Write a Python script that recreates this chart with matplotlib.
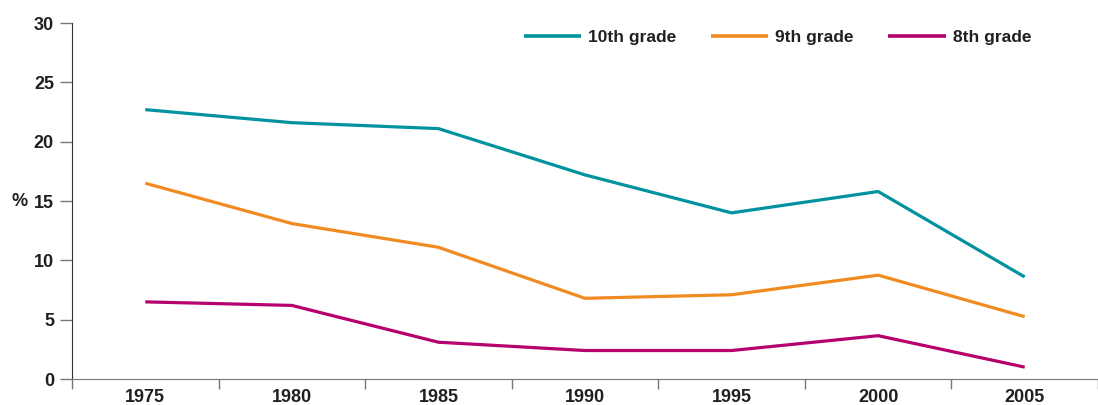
import matplotlib.pyplot as plt
from matplotlib.ticker import MultipleLocator

# datos
anios = [1975, 1980, 1985, 1990, 1995, 2000, 2005]
grado_10 = [22.7, 21.6, 21.1, 17.2, 14.0, 15.8, 8.6]
grado_9 = [16.5, 13.1, 11.1, 6.8, 7.1, 8.75, 5.25]
grado_8 = [6.5, 6.2, 3.1, 2.4, 2.4, 3.65, 1.0]

series = ['10th grade', '9th grade', '8th grade']
colores = ['#00929F', '#F18B21', '#B5006E']

plt.rcParams['font.family'] = ['Liberation Sans Narrow', 'Liberation Sans', 'DejaVu Sans']
plt.rcParams['font.weight'] = 'bold'

fig = plt.figure(figsize=(10.98, 4.05), dpi=100)
ax = fig.add_axes([72 / 1098, 1 - 379 / 405, 1 - 72 / 1098, (379 - 23) / 405])

for valores, nombre, color in zip([grado_10, grado_9, grado_8], series, colores):
    ax.plot(anios, valores, color=color, linewidth=2.3, label=nombre, solid_capstyle='butt')

ax.set_xlim(1972.5, 2007.5)
ax.set_ylim(0, 30)
ax.set_yticks(range(0, 31, 5))
ax.set_xticks(anios)
ax.xaxis.set_minor_locator(MultipleLocator(5, offset=2.5))

ax.spines['top'].set_visible(False)
ax.spines['right'].set_visible(False)
ax.spines['left'].set_color('#333333')
ax.spines['bottom'].set_color('#777777')

ax.tick_params(axis='y', direction='out', length=9, width=1, color='#777777',
               labelsize=13, labelcolor='#231F20', pad=4)
ax.tick_params(axis='x', which='major', length=0, labelsize=13, labelcolor='#231F20', pad=7)
ax.tick_params(axis='x', which='minor', direction='out', length=7, width=1, color='#777777')

for lbl in ax.get_xticklabels() + ax.get_yticklabels():
    lbl.set_fontweight('bold')

ax.set_ylabel('%', rotation=0, fontsize=13, fontweight='bold', color='#231F20', labelpad=10, va='center')

leg = ax.legend(loc='upper right', bbox_to_anchor=(0.95, 1.025), ncol=3, frameon=False,
                handlelength=3.3, handletextpad=0.4, columnspacing=2.0,
                prop={'size': 12.5, 'weight': 'bold'})
for t in leg.get_texts():
    t.set_color('#231F20')
for h in leg.get_lines():
    h.set_linewidth(2.6)

fig.savefig('out.png', dpi=100)
